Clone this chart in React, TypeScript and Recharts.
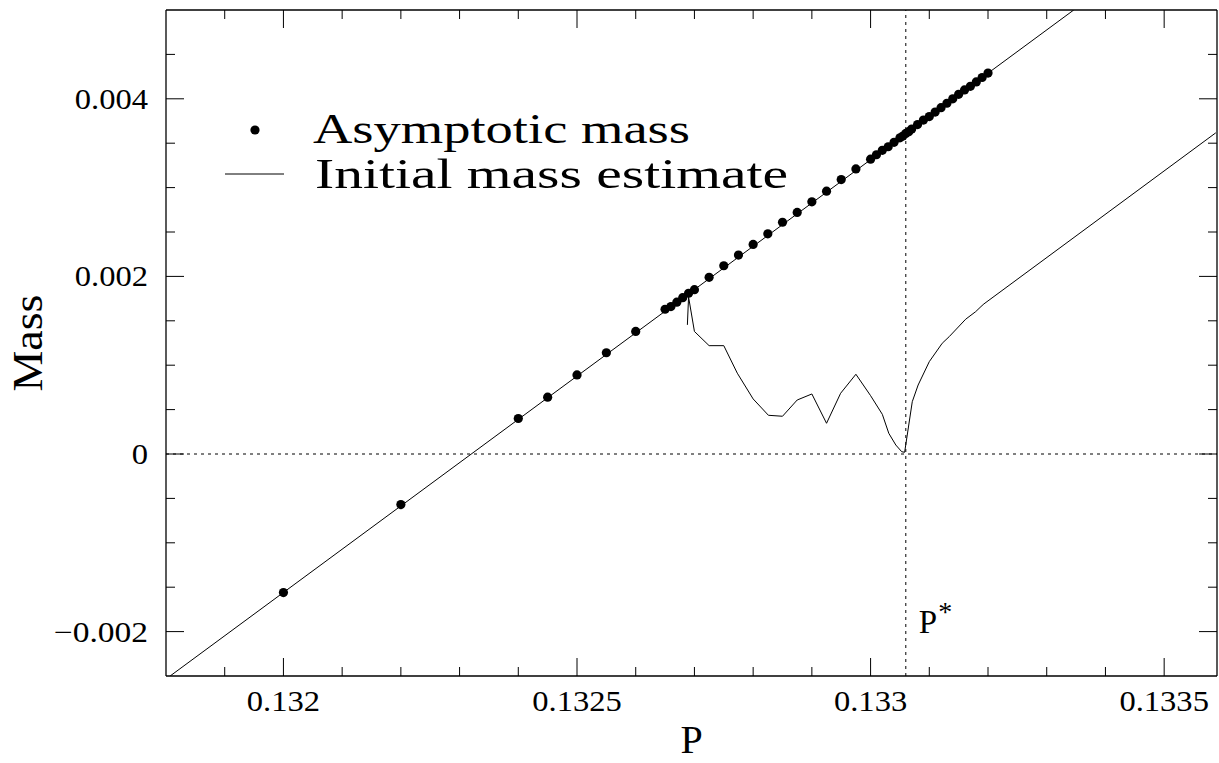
import { ComposedChart, Line, Scatter, XAxis, YAxis, ReferenceLine } from 'recharts'

// asymptotic mass points (P, mass)
const asymP = [
  0.132, 0.1322, 0.1324, 0.13245, 0.1325, 0.13255, 0.1326, 0.13265, 0.13266, 0.13267, 0.13268, 0.13269,
  0.1327, 0.132725, 0.13275, 0.132775, 0.1328, 0.132825, 0.13285, 0.132875, 0.1329, 0.132925, 0.13295,
  0.132975, 0.133, 0.13301, 0.13302, 0.13303, 0.13304, 0.13305, 0.133055, 0.13306, 0.133065, 0.13307,
  0.13308, 0.13309, 0.1331, 0.13311, 0.13312, 0.13313, 0.13314, 0.13315, 0.13316, 0.13317, 0.13318,
  0.13319, 0.1332,
]
const asymMass = [
  -0.00156, -0.00057, 0.0004, 0.00064, 0.00089, 0.00114, 0.00138, 0.00163, 0.00166, 0.00171, 0.00176, 0.00181,
  0.00185, 0.00199, 0.00212, 0.00224, 0.00236, 0.00248, 0.00261, 0.00272, 0.00284, 0.00296, 0.00309,
  0.00321, 0.00332, 0.00337, 0.00342, 0.00346, 0.00351, 0.00356, 0.00358, 0.00361, 0.00363, 0.00366,
  0.00371, 0.00376, 0.0038, 0.00385, 0.0039, 0.00395, 0.004, 0.00405, 0.0041, 0.00414, 0.00419,
  0.00424, 0.00429,
]

// straight fit through the asymptotic masses
const fitP = [0.131807, 0.133346]
const fitMass = [-0.0025, 0.005]

// initial mass estimate curve
const estP = [
  0.132688, 0.13269, 0.1327, 0.132725, 0.13275, 0.132773, 0.1328, 0.132826, 0.13285, 0.132875, 0.1329,
  0.132925, 0.132949, 0.132975, 0.133, 0.13302, 0.133031, 0.133043, 0.133053, 0.133058, 0.133071,
  0.133081, 0.1331, 0.133122, 0.133134, 0.133162, 0.133179, 0.133188, 0.133193, 0.133588,
]
const estMass = [
  0.001454, 0.001769, 0.00138, 0.00122, 0.00122, 0.00091, 0.00062, 0.000436, 0.000425, 0.000608, 0.000676,
  0.000346, 0.000684, 0.000898, 0.000657, 0.000447, 0.000233, 0.000101, 0.000026, 0.000019, 0.000589,
  0.000777, 0.00104, 0.001247, 0.001322, 0.001518, 0.001603, 0.00166, 0.00169, 0.003617,
]

const pStar = 0.13306

const xTicks = [
  0.1319, 0.132, 0.1321, 0.1322, 0.1323, 0.1324, 0.1325, 0.1326, 0.1327, 0.1328, 0.1329,
  0.133, 0.1331, 0.1332, 0.1333, 0.1334, 0.1335,
]
const xMajor = [0.132, 0.1325, 0.133, 0.1335]
const xTickLabels = ['0.132', '0.1325', '0.133', '0.1335']

const yTicks = [
  -0.002, -0.0015, -0.001, -0.0005, 0, 0.0005, 0.001, 0.0015, 0.002, 0.0025, 0.003, 0.0035, 0.004, 0.0045,
]
const yMajor = [-0.002, 0, 0.002, 0.004]
const yTickLabels = ['\u22120.002', '0', '0.002', '0.004']

const asymData = asymP.map((p, i) => ({ p, m: asymMass[i] }))
const fitData = fitP.map((p, i) => ({ p, m: fitMass[i] }))
const estData = estP.map((p, i) => ({ p, m: estMass[i] }))

const FONT = '"Liberation Serif", "DejaVu Serif", serif'

const majorIndex = (v: number, majors: number[]) => majors.findIndex(t => Math.abs(t - v) < 1e-9)

// PGPLOT-style glyphs are wider than Times, so stretch labels to the reference widths
const labelLen = (s: string) => {
  let w = 0
  for (const c of s) w += c === '.' ? 8 : c === '\u2212' ? 21 : 16.3
  return w
}

const BottomTick = (props: any) => {
  const { x, y, payload } = props
  const i = majorIndex(payload.value, xMajor)
  const major = i >= 0
  return (
    <g>
      <line x1={x} x2={x} y1={y} y2={y - (major ? 18 : 9)} stroke="#000" strokeWidth={1} />
      {major && (
        <text x={x} y={y + 35} textAnchor="middle" fontFamily={FONT} fontSize={29} fill="#000"
          textLength={labelLen(xTickLabels[i])} lengthAdjust="spacingAndGlyphs">
          {xTickLabels[i]}
        </text>
      )}
    </g>
  )
}

const TopTick = (props: any) => {
  const { x, y, payload } = props
  const major = majorIndex(payload.value, xMajor) >= 0
  return <line x1={x} x2={x} y1={y} y2={y + (major ? 18 : 9)} stroke="#000" strokeWidth={1} />
}

const LeftTick = (props: any) => {
  const { x, y, payload } = props
  const i = majorIndex(payload.value, yMajor)
  const major = i >= 0
  return (
    <g>
      <line x1={x} x2={x + (major ? 18 : 9)} y1={y} y2={y} stroke="#000" strokeWidth={1} />
      {major && (
        <text x={x - 18} y={y + 10} textAnchor="end" fontFamily={FONT} fontSize={29} fill="#000"
          textLength={labelLen(yTickLabels[i])} lengthAdjust="spacingAndGlyphs">
          {yTickLabels[i]}
        </text>
      )}
    </g>
  )
}

const RightTick = (props: any) => {
  const { x, y, payload } = props
  const major = majorIndex(payload.value, yMajor) >= 0
  return <line x1={x} x2={x - (major ? 18 : 9)} y1={y} y2={y} stroke="#000" strokeWidth={1} />
}

const XTitle = (props: any) => {
  const vb = props.viewBox || { x: 166, y: 676, width: 1051, height: 87 }
  return (
    <text x={vb.x + vb.width / 2} y={vb.y + 77} textAnchor="middle" fontFamily={FONT} fontSize={40} fill="#000">
      P
    </text>
  )
}

const YTitle = (props: any) => {
  const vb = props.viewBox || { x: 0, y: 10, width: 166, height: 666 }
  const cx = 42
  const cy = vb.y + vb.height / 2
  return (
    <text x={cx} y={cy} transform={`rotate(-90, ${cx}, ${cy})`} textAnchor="middle" fontFamily={FONT}
      fontSize={43} fill="#000" textLength={97} lengthAdjust="spacingAndGlyphs">
      Mass
    </text>
  )
}

const PStarLabel = (props: any) => {
  const vb = props.viewBox || { x: 906, y: 10, width: 0, height: 666 }
  return (
    <text x={vb.x + 13} y={vb.y + vb.height - 43} fontFamily={FONT} fontSize={33} fill="#000">
      P<tspan fontSize={28} dy={-12} dx={1}>*</tspan>
    </text>
  )
}

const Dot = (props: any) => <circle cx={props.cx} cy={props.cy} r={4.6} fill="#000" />

const axisLine = { stroke: '#000', strokeWidth: 1.3 }

export default function App() {
  return (
    <div style={{ position: 'absolute', left: 0, top: 0, width: 1219, height: 763, background: '#fff' }}>
      <ComposedChart width={1219} height={763} margin={{ top: 9, right: 1, bottom: 0, left: 0 }}>
        <XAxis xAxisId="b" dataKey="p" type="number" domain={[0.1318, 0.13359]} allowDataOverflow
          ticks={xTicks} interval={0} tick={BottomTick} tickLine={false} tickSize={0} tickMargin={0}
          axisLine={axisLine} height={87} label={{ content: XTitle }} />
        <XAxis xAxisId="t" orientation="top" dataKey="p" type="number" domain={[0.1318, 0.13359]} allowDataOverflow
          ticks={xTicks} interval={0} tick={TopTick} tickLine={false} tickSize={0} tickMargin={0}
          axisLine={axisLine} height={1} />
        <YAxis yAxisId="l" dataKey="m" type="number" domain={[-0.0025, 0.005]} allowDataOverflow
          ticks={yTicks} interval={0} tick={LeftTick} tickLine={false} tickSize={0} tickMargin={0}
          axisLine={axisLine} width={166} label={{ content: YTitle }} />
        <YAxis yAxisId="r" orientation="right" dataKey="m" type="number" domain={[-0.0025, 0.005]} allowDataOverflow
          ticks={yTicks} interval={0} tick={RightTick} tickLine={false} tickSize={0} tickMargin={0}
          axisLine={axisLine} width={1} />
        <ReferenceLine xAxisId="b" yAxisId="l" y={0} stroke="#000" strokeWidth={1} strokeDasharray="3 4" />
        <ReferenceLine xAxisId="b" yAxisId="l" x={pStar} stroke="#000" strokeWidth={1} strokeDasharray="3 4"
          label={{ content: PStarLabel }} />
        <Line xAxisId="b" yAxisId="l" data={fitData} dataKey="m" type="linear" stroke="#000" strokeWidth={1}
          dot={false} activeDot={false} isAnimationActive={false} />
        <Line xAxisId="b" yAxisId="l" data={estData} dataKey="m" type="linear" stroke="#000" strokeWidth={1}
          dot={false} activeDot={false} isAnimationActive={false} />
        <Scatter xAxisId="b" yAxisId="l" data={asymData} dataKey="m" shape={Dot} isAnimationActive={false} />
      </ComposedChart>
      <svg width={1219} height={763} style={{ position: 'absolute', left: 0, top: 0, pointerEvents: 'none' }}>
        <circle cx={255} cy={130} r={4.6} fill="#000" />
        <text x={313} y={143} fontFamily={FONT} fontSize={42} fill="#000" textLength={377} lengthAdjust="spacingAndGlyphs">
          Asymptotic mass
        </text>
        <line x1={225} x2={284} y1={174} y2={174} stroke="#000" strokeWidth={1} />
        <text x={315} y={188} fontFamily={FONT} fontSize={42} fill="#000" textLength={473} lengthAdjust="spacingAndGlyphs">
          Initial mass estimate
        </text>
      </svg>
    </div>
  )
}
